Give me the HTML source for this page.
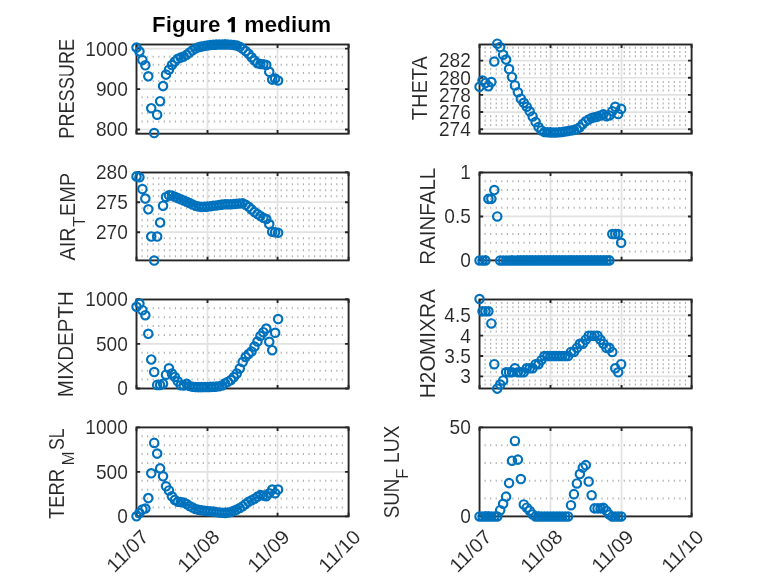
<!DOCTYPE html>
<html><head><meta charset="utf-8"><title>Figure 1 medium</title>
<style>
html,body{margin:0;padding:0;background:#fff;}
body{width:778px;height:583px;overflow:hidden;}
svg{display:block;font-family:"Liberation Sans",sans-serif;will-change:transform;}
.mn{stroke:#b0b0b0;stroke-width:2.0;stroke-dasharray:1.15 4.415;}
.mj{stroke:#e2e2e2;stroke-width:1.7;}
.bx{fill:none;stroke:#262626;stroke-width:1.9;}
.tk{fill:none;stroke:#262626;stroke-width:1.9;}
.tl{font-size:19.7px;fill:#262626;text-anchor:end;stroke:#fff;stroke-width:0.1px;}
.xl{font-size:19.7px;fill:#262626;text-anchor:end;stroke:#fff;stroke-width:0.1px;}
.yl{font-size:21.6px;fill:#262626;text-anchor:middle;stroke:#fff;stroke-width:0.1px;}
.ti{font-size:21.3px;font-weight:bold;fill:#000;stroke:#fff;stroke-width:0.15px;}
.dt{fill:none;stroke:#0072BD;stroke-width:2.15;}
</style></head>
<body>
<svg width="778" height="583" viewBox="0 0 778 583"><rect width="778" height="583" fill="#ffffff"/><line x1="141.49" y1="121.41" x2="346.6" y2="121.41" class="mn"/><line x1="141.49" y1="113.33" x2="346.6" y2="113.33" class="mn"/><line x1="141.49" y1="105.25" x2="346.6" y2="105.25" class="mn"/><line x1="141.49" y1="97.16" x2="346.6" y2="97.16" class="mn"/><line x1="141.49" y1="80.99" x2="346.6" y2="80.99" class="mn"/><line x1="141.49" y1="72.91" x2="346.6" y2="72.91" class="mn"/><line x1="141.49" y1="64.82" x2="346.6" y2="64.82" class="mn"/><line x1="141.49" y1="56.74" x2="346.6" y2="56.74" class="mn"/><line x1="136.5" y1="129.5" x2="348.6" y2="129.5" class="mj"/><line x1="136.5" y1="89.08" x2="348.6" y2="89.08" class="mj"/><line x1="136.5" y1="48.65" x2="348.6" y2="48.65" class="mj"/><line x1="207.5" y1="44.5" x2="207.5" y2="133.7" class="mj"/><line x1="277.55" y1="44.5" x2="277.55" y2="133.7" class="mj"/><rect x="136.5" y="44.5" width="212.1" height="89.2" class="bx"/><path d="M136.5 129.5h3.6M348.6 129.5h-3.6M136.5 89.08h3.6M348.6 89.08h-3.6M136.5 48.65h3.6M348.6 48.65h-3.6M136.5 133.7v-3.6M136.5 44.5v3.6M207.5 133.7v-3.6M207.5 44.5v3.6M277.55 133.7v-3.6M277.55 44.5v3.6M348.6 133.7v-3.6M348.6 44.5v3.6" class="tk"/><text transform="translate(127.8 136.4) scale(0.97 1)" class="tl">800</text><text transform="translate(127.8 95.97) scale(0.97 1)" class="tl">900</text><text transform="translate(127.8 55.55) scale(0.97 1)" class="tl">1000</text><text transform="translate(73.5 88.8) rotate(-90) scale(0.841 1)" class="yl">PRESSURE</text><path d="M140.7 47.6a4.2 4.2 0 1 0 -8.4 0a4.2 4.2 0 1 0 8.4 0M143.65 51.4a4.2 4.2 0 1 0 -8.4 0a4.2 4.2 0 1 0 8.4 0M146.6 60.1a4.2 4.2 0 1 0 -8.4 0a4.2 4.2 0 1 0 8.4 0M149.55 65.3a4.2 4.2 0 1 0 -8.4 0a4.2 4.2 0 1 0 8.4 0M152.5 76.3a4.2 4.2 0 1 0 -8.4 0a4.2 4.2 0 1 0 8.4 0M155.45 108.2a4.2 4.2 0 1 0 -8.4 0a4.2 4.2 0 1 0 8.4 0M158.4 133a4.2 4.2 0 1 0 -8.4 0a4.2 4.2 0 1 0 8.4 0M161.35 114.7a4.2 4.2 0 1 0 -8.4 0a4.2 4.2 0 1 0 8.4 0M164.3 101.2a4.2 4.2 0 1 0 -8.4 0a4.2 4.2 0 1 0 8.4 0M167.25 86.1a4.2 4.2 0 1 0 -8.4 0a4.2 4.2 0 1 0 8.4 0M170.2 74.6a4.2 4.2 0 1 0 -8.4 0a4.2 4.2 0 1 0 8.4 0M173.15 69.8a4.2 4.2 0 1 0 -8.4 0a4.2 4.2 0 1 0 8.4 0M176.1 65a4.2 4.2 0 1 0 -8.4 0a4.2 4.2 0 1 0 8.4 0M179.05 61.5a4.2 4.2 0 1 0 -8.4 0a4.2 4.2 0 1 0 8.4 0M182 58.8a4.2 4.2 0 1 0 -8.4 0a4.2 4.2 0 1 0 8.4 0M184.95 57.6a4.2 4.2 0 1 0 -8.4 0a4.2 4.2 0 1 0 8.4 0M187.9 56.6a4.2 4.2 0 1 0 -8.4 0a4.2 4.2 0 1 0 8.4 0M190.85 54.8a4.2 4.2 0 1 0 -8.4 0a4.2 4.2 0 1 0 8.4 0M193.8 52.5a4.2 4.2 0 1 0 -8.4 0a4.2 4.2 0 1 0 8.4 0M196.75 50.3a4.2 4.2 0 1 0 -8.4 0a4.2 4.2 0 1 0 8.4 0M199.7 48.6a4.2 4.2 0 1 0 -8.4 0a4.2 4.2 0 1 0 8.4 0M202.65 47.3a4.2 4.2 0 1 0 -8.4 0a4.2 4.2 0 1 0 8.4 0M205.6 46.6a4.2 4.2 0 1 0 -8.4 0a4.2 4.2 0 1 0 8.4 0M208.55 45.9a4.2 4.2 0 1 0 -8.4 0a4.2 4.2 0 1 0 8.4 0M211.5 45.4a4.2 4.2 0 1 0 -8.4 0a4.2 4.2 0 1 0 8.4 0M214.45 45a4.2 4.2 0 1 0 -8.4 0a4.2 4.2 0 1 0 8.4 0M217.4 44.8a4.2 4.2 0 1 0 -8.4 0a4.2 4.2 0 1 0 8.4 0M220.35 44.6a4.2 4.2 0 1 0 -8.4 0a4.2 4.2 0 1 0 8.4 0M223.3 44.5a4.2 4.2 0 1 0 -8.4 0a4.2 4.2 0 1 0 8.4 0M226.25 44.4a4.2 4.2 0 1 0 -8.4 0a4.2 4.2 0 1 0 8.4 0M229.2 44.4a4.2 4.2 0 1 0 -8.4 0a4.2 4.2 0 1 0 8.4 0M232.15 44.5a4.2 4.2 0 1 0 -8.4 0a4.2 4.2 0 1 0 8.4 0M235.1 44.7a4.2 4.2 0 1 0 -8.4 0a4.2 4.2 0 1 0 8.4 0M238.05 45a4.2 4.2 0 1 0 -8.4 0a4.2 4.2 0 1 0 8.4 0M241 45.6a4.2 4.2 0 1 0 -8.4 0a4.2 4.2 0 1 0 8.4 0M243.95 46.7a4.2 4.2 0 1 0 -8.4 0a4.2 4.2 0 1 0 8.4 0M246.9 48.8a4.2 4.2 0 1 0 -8.4 0a4.2 4.2 0 1 0 8.4 0M249.85 51a4.2 4.2 0 1 0 -8.4 0a4.2 4.2 0 1 0 8.4 0M252.8 53.8a4.2 4.2 0 1 0 -8.4 0a4.2 4.2 0 1 0 8.4 0M255.75 57.2a4.2 4.2 0 1 0 -8.4 0a4.2 4.2 0 1 0 8.4 0M258.7 60.6a4.2 4.2 0 1 0 -8.4 0a4.2 4.2 0 1 0 8.4 0M261.65 63.2a4.2 4.2 0 1 0 -8.4 0a4.2 4.2 0 1 0 8.4 0M264.6 64a4.2 4.2 0 1 0 -8.4 0a4.2 4.2 0 1 0 8.4 0M267.55 64.3a4.2 4.2 0 1 0 -8.4 0a4.2 4.2 0 1 0 8.4 0M270.5 65a4.2 4.2 0 1 0 -8.4 0a4.2 4.2 0 1 0 8.4 0M273.45 71.8a4.2 4.2 0 1 0 -8.4 0a4.2 4.2 0 1 0 8.4 0M276.4 79.6a4.2 4.2 0 1 0 -8.4 0a4.2 4.2 0 1 0 8.4 0M279.35 78.6a4.2 4.2 0 1 0 -8.4 0a4.2 4.2 0 1 0 8.4 0M282.3 80.4a4.2 4.2 0 1 0 -8.4 0a4.2 4.2 0 1 0 8.4 0" class="dt"/><line x1="484.54" y1="124.91" x2="689.6" y2="124.91" class="mn"/><line x1="484.54" y1="120.62" x2="689.6" y2="120.62" class="mn"/><line x1="484.54" y1="116.34" x2="689.6" y2="116.34" class="mn"/><line x1="484.54" y1="107.76" x2="689.6" y2="107.76" class="mn"/><line x1="484.54" y1="103.47" x2="689.6" y2="103.47" class="mn"/><line x1="484.54" y1="99.19" x2="689.6" y2="99.19" class="mn"/><line x1="484.54" y1="90.61" x2="689.6" y2="90.61" class="mn"/><line x1="484.54" y1="86.32" x2="689.6" y2="86.32" class="mn"/><line x1="484.54" y1="82.04" x2="689.6" y2="82.04" class="mn"/><line x1="484.54" y1="73.46" x2="689.6" y2="73.46" class="mn"/><line x1="484.54" y1="69.17" x2="689.6" y2="69.17" class="mn"/><line x1="484.54" y1="64.89" x2="689.6" y2="64.89" class="mn"/><line x1="484.54" y1="56.31" x2="689.6" y2="56.31" class="mn"/><line x1="484.54" y1="52.02" x2="689.6" y2="52.02" class="mn"/><line x1="484.54" y1="47.74" x2="689.6" y2="47.74" class="mn"/><line x1="479.55" y1="129.2" x2="691.6" y2="129.2" class="mj"/><line x1="479.55" y1="112.05" x2="691.6" y2="112.05" class="mj"/><line x1="479.55" y1="94.9" x2="691.6" y2="94.9" class="mj"/><line x1="479.55" y1="77.75" x2="691.6" y2="77.75" class="mj"/><line x1="479.55" y1="60.6" x2="691.6" y2="60.6" class="mj"/><line x1="550.5" y1="44.5" x2="550.5" y2="133.7" class="mj"/><line x1="621.55" y1="44.5" x2="621.55" y2="133.7" class="mj"/><rect x="479.55" y="44.5" width="212.05" height="89.2" class="bx"/><path d="M479.55 129.2h3.6M691.6 129.2h-3.6M479.55 112.05h3.6M691.6 112.05h-3.6M479.55 94.9h3.6M691.6 94.9h-3.6M479.55 77.75h3.6M691.6 77.75h-3.6M479.55 60.6h3.6M691.6 60.6h-3.6M479.55 133.7v-3.6M479.55 44.5v3.6M550.5 133.7v-3.6M550.5 44.5v3.6M621.55 133.7v-3.6M621.55 44.5v3.6M691.6 133.7v-3.6M691.6 44.5v3.6" class="tk"/><text transform="translate(470.85 136.09) scale(0.97 1)" class="tl">274</text><text transform="translate(470.85 118.94) scale(0.97 1)" class="tl">276</text><text transform="translate(470.85 101.79) scale(0.97 1)" class="tl">278</text><text transform="translate(470.85 84.64) scale(0.97 1)" class="tl">280</text><text transform="translate(470.85 67.49) scale(0.97 1)" class="tl">282</text><text transform="translate(426.6 88.2) rotate(-90) scale(0.925 1)" class="yl">THETA</text><path d="M483.75 86.8a4.2 4.2 0 1 0 -8.4 0a4.2 4.2 0 1 0 8.4 0M486.7 80.4a4.2 4.2 0 1 0 -8.4 0a4.2 4.2 0 1 0 8.4 0M489.65 83a4.2 4.2 0 1 0 -8.4 0a4.2 4.2 0 1 0 8.4 0M492.6 86.3a4.2 4.2 0 1 0 -8.4 0a4.2 4.2 0 1 0 8.4 0M495.55 82.1a4.2 4.2 0 1 0 -8.4 0a4.2 4.2 0 1 0 8.4 0M498.5 61.5a4.2 4.2 0 1 0 -8.4 0a4.2 4.2 0 1 0 8.4 0M501.45 43.7a4.2 4.2 0 1 0 -8.4 0a4.2 4.2 0 1 0 8.4 0M504.4 47a4.2 4.2 0 1 0 -8.4 0a4.2 4.2 0 1 0 8.4 0M507.35 54.7a4.2 4.2 0 1 0 -8.4 0a4.2 4.2 0 1 0 8.4 0M510.3 59.6a4.2 4.2 0 1 0 -8.4 0a4.2 4.2 0 1 0 8.4 0M513.25 69.1a4.2 4.2 0 1 0 -8.4 0a4.2 4.2 0 1 0 8.4 0M516.2 77a4.2 4.2 0 1 0 -8.4 0a4.2 4.2 0 1 0 8.4 0M519.15 85.4a4.2 4.2 0 1 0 -8.4 0a4.2 4.2 0 1 0 8.4 0M522.1 92.3a4.2 4.2 0 1 0 -8.4 0a4.2 4.2 0 1 0 8.4 0M525.05 98.7a4.2 4.2 0 1 0 -8.4 0a4.2 4.2 0 1 0 8.4 0M528 102.8a4.2 4.2 0 1 0 -8.4 0a4.2 4.2 0 1 0 8.4 0M530.95 106.8a4.2 4.2 0 1 0 -8.4 0a4.2 4.2 0 1 0 8.4 0M533.9 111.3a4.2 4.2 0 1 0 -8.4 0a4.2 4.2 0 1 0 8.4 0M536.85 116.5a4.2 4.2 0 1 0 -8.4 0a4.2 4.2 0 1 0 8.4 0M539.8 122a4.2 4.2 0 1 0 -8.4 0a4.2 4.2 0 1 0 8.4 0M542.75 127a4.2 4.2 0 1 0 -8.4 0a4.2 4.2 0 1 0 8.4 0M545.7 130.5a4.2 4.2 0 1 0 -8.4 0a4.2 4.2 0 1 0 8.4 0M548.65 132a4.2 4.2 0 1 0 -8.4 0a4.2 4.2 0 1 0 8.4 0M551.6 132.3a4.2 4.2 0 1 0 -8.4 0a4.2 4.2 0 1 0 8.4 0M554.55 132.4a4.2 4.2 0 1 0 -8.4 0a4.2 4.2 0 1 0 8.4 0M557.5 132.5a4.2 4.2 0 1 0 -8.4 0a4.2 4.2 0 1 0 8.4 0M560.45 132.5a4.2 4.2 0 1 0 -8.4 0a4.2 4.2 0 1 0 8.4 0M563.4 132.3a4.2 4.2 0 1 0 -8.4 0a4.2 4.2 0 1 0 8.4 0M566.35 132a4.2 4.2 0 1 0 -8.4 0a4.2 4.2 0 1 0 8.4 0M569.3 131.5a4.2 4.2 0 1 0 -8.4 0a4.2 4.2 0 1 0 8.4 0M572.25 131a4.2 4.2 0 1 0 -8.4 0a4.2 4.2 0 1 0 8.4 0M575.2 130.5a4.2 4.2 0 1 0 -8.4 0a4.2 4.2 0 1 0 8.4 0M578.15 130a4.2 4.2 0 1 0 -8.4 0a4.2 4.2 0 1 0 8.4 0M581.1 129a4.2 4.2 0 1 0 -8.4 0a4.2 4.2 0 1 0 8.4 0M584.05 127.3a4.2 4.2 0 1 0 -8.4 0a4.2 4.2 0 1 0 8.4 0M587 124a4.2 4.2 0 1 0 -8.4 0a4.2 4.2 0 1 0 8.4 0M589.95 121.2a4.2 4.2 0 1 0 -8.4 0a4.2 4.2 0 1 0 8.4 0M592.9 119.5a4.2 4.2 0 1 0 -8.4 0a4.2 4.2 0 1 0 8.4 0M595.85 118.1a4.2 4.2 0 1 0 -8.4 0a4.2 4.2 0 1 0 8.4 0M598.8 117.2a4.2 4.2 0 1 0 -8.4 0a4.2 4.2 0 1 0 8.4 0M601.75 116.6a4.2 4.2 0 1 0 -8.4 0a4.2 4.2 0 1 0 8.4 0M604.7 115.5a4.2 4.2 0 1 0 -8.4 0a4.2 4.2 0 1 0 8.4 0M607.65 114.3a4.2 4.2 0 1 0 -8.4 0a4.2 4.2 0 1 0 8.4 0M610.6 116.3a4.2 4.2 0 1 0 -8.4 0a4.2 4.2 0 1 0 8.4 0M613.55 115.5a4.2 4.2 0 1 0 -8.4 0a4.2 4.2 0 1 0 8.4 0M616.5 111.2a4.2 4.2 0 1 0 -8.4 0a4.2 4.2 0 1 0 8.4 0M619.45 106.8a4.2 4.2 0 1 0 -8.4 0a4.2 4.2 0 1 0 8.4 0M622.4 114a4.2 4.2 0 1 0 -8.4 0a4.2 4.2 0 1 0 8.4 0M625.35 108.9a4.2 4.2 0 1 0 -8.4 0a4.2 4.2 0 1 0 8.4 0" class="dt"/><line x1="141.49" y1="256.2" x2="346.6" y2="256.2" class="mn"/><line x1="141.49" y1="250.2" x2="346.6" y2="250.2" class="mn"/><line x1="141.49" y1="244.2" x2="346.6" y2="244.2" class="mn"/><line x1="141.49" y1="238.2" x2="346.6" y2="238.2" class="mn"/><line x1="141.49" y1="226.2" x2="346.6" y2="226.2" class="mn"/><line x1="141.49" y1="220.2" x2="346.6" y2="220.2" class="mn"/><line x1="141.49" y1="214.2" x2="346.6" y2="214.2" class="mn"/><line x1="141.49" y1="208.2" x2="346.6" y2="208.2" class="mn"/><line x1="141.49" y1="196.2" x2="346.6" y2="196.2" class="mn"/><line x1="141.49" y1="190.2" x2="346.6" y2="190.2" class="mn"/><line x1="141.49" y1="184.2" x2="346.6" y2="184.2" class="mn"/><line x1="141.49" y1="178.2" x2="346.6" y2="178.2" class="mn"/><line x1="136.5" y1="232.2" x2="348.6" y2="232.2" class="mj"/><line x1="136.5" y1="202.2" x2="348.6" y2="202.2" class="mj"/><line x1="207.5" y1="172.5" x2="207.5" y2="260.4" class="mj"/><line x1="277.55" y1="172.5" x2="277.55" y2="260.4" class="mj"/><rect x="136.5" y="172.5" width="212.1" height="87.9" class="bx"/><path d="M136.5 232.2h3.6M348.6 232.2h-3.6M136.5 202.2h3.6M348.6 202.2h-3.6M136.5 172.2h3.6M348.6 172.2h-3.6M136.5 260.4v-3.6M136.5 172.5v3.6M207.5 260.4v-3.6M207.5 172.5v3.6M277.55 260.4v-3.6M277.55 172.5v3.6M348.6 260.4v-3.6M348.6 172.5v3.6" class="tk"/><text transform="translate(127.8 239.09) scale(0.97 1)" class="tl">270</text><text transform="translate(127.8 209.09) scale(0.97 1)" class="tl">275</text><text transform="translate(127.8 179.09) scale(0.97 1)" class="tl">280</text><text transform="translate(74.7 260.5) rotate(-90) scale(0.92 1)" class="yl" style="text-anchor:start;font-size:21.6px">AIR</text><text transform="translate(84.9 227.2) rotate(-90) scale(1.1 1)" class="yl" style="text-anchor:start;font-size:16.3px">T</text><text transform="translate(74.7 216.2) rotate(-90) scale(0.927 1)" class="yl" style="text-anchor:start;font-size:21.6px">EMP</text><path d="M140.7 176.4a4.2 4.2 0 1 0 -8.4 0a4.2 4.2 0 1 0 8.4 0M143.65 177.3a4.2 4.2 0 1 0 -8.4 0a4.2 4.2 0 1 0 8.4 0M146.6 189.1a4.2 4.2 0 1 0 -8.4 0a4.2 4.2 0 1 0 8.4 0M149.55 198.6a4.2 4.2 0 1 0 -8.4 0a4.2 4.2 0 1 0 8.4 0M152.5 209.3a4.2 4.2 0 1 0 -8.4 0a4.2 4.2 0 1 0 8.4 0M155.45 236.5a4.2 4.2 0 1 0 -8.4 0a4.2 4.2 0 1 0 8.4 0M158.4 260.5a4.2 4.2 0 1 0 -8.4 0a4.2 4.2 0 1 0 8.4 0M161.35 236.5a4.2 4.2 0 1 0 -8.4 0a4.2 4.2 0 1 0 8.4 0M164.3 222.5a4.2 4.2 0 1 0 -8.4 0a4.2 4.2 0 1 0 8.4 0M167.25 205.7a4.2 4.2 0 1 0 -8.4 0a4.2 4.2 0 1 0 8.4 0M170.2 196.9a4.2 4.2 0 1 0 -8.4 0a4.2 4.2 0 1 0 8.4 0M173.15 195.2a4.2 4.2 0 1 0 -8.4 0a4.2 4.2 0 1 0 8.4 0M176.1 195.5a4.2 4.2 0 1 0 -8.4 0a4.2 4.2 0 1 0 8.4 0M179.05 196.8a4.2 4.2 0 1 0 -8.4 0a4.2 4.2 0 1 0 8.4 0M182 198.1a4.2 4.2 0 1 0 -8.4 0a4.2 4.2 0 1 0 8.4 0M184.95 199.2a4.2 4.2 0 1 0 -8.4 0a4.2 4.2 0 1 0 8.4 0M187.9 200.4a4.2 4.2 0 1 0 -8.4 0a4.2 4.2 0 1 0 8.4 0M190.85 201.8a4.2 4.2 0 1 0 -8.4 0a4.2 4.2 0 1 0 8.4 0M193.8 203.1a4.2 4.2 0 1 0 -8.4 0a4.2 4.2 0 1 0 8.4 0M196.75 204.5a4.2 4.2 0 1 0 -8.4 0a4.2 4.2 0 1 0 8.4 0M199.7 205.8a4.2 4.2 0 1 0 -8.4 0a4.2 4.2 0 1 0 8.4 0M202.65 206.5a4.2 4.2 0 1 0 -8.4 0a4.2 4.2 0 1 0 8.4 0M205.6 207a4.2 4.2 0 1 0 -8.4 0a4.2 4.2 0 1 0 8.4 0M208.55 206.8a4.2 4.2 0 1 0 -8.4 0a4.2 4.2 0 1 0 8.4 0M211.5 206.6a4.2 4.2 0 1 0 -8.4 0a4.2 4.2 0 1 0 8.4 0M214.45 206.2a4.2 4.2 0 1 0 -8.4 0a4.2 4.2 0 1 0 8.4 0M217.4 205.8a4.2 4.2 0 1 0 -8.4 0a4.2 4.2 0 1 0 8.4 0M220.35 205.4a4.2 4.2 0 1 0 -8.4 0a4.2 4.2 0 1 0 8.4 0M223.3 205a4.2 4.2 0 1 0 -8.4 0a4.2 4.2 0 1 0 8.4 0M226.25 204.6a4.2 4.2 0 1 0 -8.4 0a4.2 4.2 0 1 0 8.4 0M229.2 204.2a4.2 4.2 0 1 0 -8.4 0a4.2 4.2 0 1 0 8.4 0M232.15 204.2a4.2 4.2 0 1 0 -8.4 0a4.2 4.2 0 1 0 8.4 0M235.1 204.2a4.2 4.2 0 1 0 -8.4 0a4.2 4.2 0 1 0 8.4 0M238.05 204a4.2 4.2 0 1 0 -8.4 0a4.2 4.2 0 1 0 8.4 0M241 203.8a4.2 4.2 0 1 0 -8.4 0a4.2 4.2 0 1 0 8.4 0M243.95 203.5a4.2 4.2 0 1 0 -8.4 0a4.2 4.2 0 1 0 8.4 0M246.9 203.3a4.2 4.2 0 1 0 -8.4 0a4.2 4.2 0 1 0 8.4 0M249.85 204.8a4.2 4.2 0 1 0 -8.4 0a4.2 4.2 0 1 0 8.4 0M252.8 206.8a4.2 4.2 0 1 0 -8.4 0a4.2 4.2 0 1 0 8.4 0M255.75 209.4a4.2 4.2 0 1 0 -8.4 0a4.2 4.2 0 1 0 8.4 0M258.7 212a4.2 4.2 0 1 0 -8.4 0a4.2 4.2 0 1 0 8.4 0M261.65 214a4.2 4.2 0 1 0 -8.4 0a4.2 4.2 0 1 0 8.4 0M264.6 216.1a4.2 4.2 0 1 0 -8.4 0a4.2 4.2 0 1 0 8.4 0M267.55 217.8a4.2 4.2 0 1 0 -8.4 0a4.2 4.2 0 1 0 8.4 0M270.5 219a4.2 4.2 0 1 0 -8.4 0a4.2 4.2 0 1 0 8.4 0M273.45 224.1a4.2 4.2 0 1 0 -8.4 0a4.2 4.2 0 1 0 8.4 0M276.4 231.8a4.2 4.2 0 1 0 -8.4 0a4.2 4.2 0 1 0 8.4 0M279.35 232.3a4.2 4.2 0 1 0 -8.4 0a4.2 4.2 0 1 0 8.4 0M282.3 232.8a4.2 4.2 0 1 0 -8.4 0a4.2 4.2 0 1 0 8.4 0" class="dt"/><line x1="484.54" y1="251.61" x2="689.6" y2="251.61" class="mn"/><line x1="484.54" y1="242.82" x2="689.6" y2="242.82" class="mn"/><line x1="484.54" y1="234.03" x2="689.6" y2="234.03" class="mn"/><line x1="484.54" y1="225.24" x2="689.6" y2="225.24" class="mn"/><line x1="484.54" y1="207.66" x2="689.6" y2="207.66" class="mn"/><line x1="484.54" y1="198.87" x2="689.6" y2="198.87" class="mn"/><line x1="484.54" y1="190.08" x2="689.6" y2="190.08" class="mn"/><line x1="484.54" y1="181.29" x2="689.6" y2="181.29" class="mn"/><line x1="479.55" y1="216.45" x2="691.6" y2="216.45" class="mj"/><line x1="550.5" y1="172.5" x2="550.5" y2="260.4" class="mj"/><line x1="621.55" y1="172.5" x2="621.55" y2="260.4" class="mj"/><rect x="479.55" y="172.5" width="212.05" height="87.9" class="bx"/><path d="M479.55 260.4h3.6M691.6 260.4h-3.6M479.55 216.45h3.6M691.6 216.45h-3.6M479.55 172.5h3.6M691.6 172.5h-3.6M479.55 260.4v-3.6M479.55 172.5v3.6M550.5 260.4v-3.6M550.5 172.5v3.6M621.55 260.4v-3.6M621.55 172.5v3.6M691.6 260.4v-3.6M691.6 172.5v3.6" class="tk"/><text transform="translate(470.85 267.29) scale(0.97 1)" class="tl">0</text><text transform="translate(470.85 223.34) scale(0.97 1)" class="tl">0.5</text><text transform="translate(470.85 179.4) scale(0.97 1)" class="tl">1</text><text transform="translate(434.5 216.2) rotate(-90) scale(0.95 1)" class="yl">RAINFALL</text><path d="M483.75 260.4a4.2 4.2 0 1 0 -8.4 0a4.2 4.2 0 1 0 8.4 0M486.7 260.4a4.2 4.2 0 1 0 -8.4 0a4.2 4.2 0 1 0 8.4 0M489.65 260.4a4.2 4.2 0 1 0 -8.4 0a4.2 4.2 0 1 0 8.4 0M492.6 198.87a4.2 4.2 0 1 0 -8.4 0a4.2 4.2 0 1 0 8.4 0M495.55 198.87a4.2 4.2 0 1 0 -8.4 0a4.2 4.2 0 1 0 8.4 0M498.5 190.08a4.2 4.2 0 1 0 -8.4 0a4.2 4.2 0 1 0 8.4 0M501.45 216.45a4.2 4.2 0 1 0 -8.4 0a4.2 4.2 0 1 0 8.4 0M504.4 260.4a4.2 4.2 0 1 0 -8.4 0a4.2 4.2 0 1 0 8.4 0M507.35 260.4a4.2 4.2 0 1 0 -8.4 0a4.2 4.2 0 1 0 8.4 0M510.3 260.4a4.2 4.2 0 1 0 -8.4 0a4.2 4.2 0 1 0 8.4 0M513.25 260.4a4.2 4.2 0 1 0 -8.4 0a4.2 4.2 0 1 0 8.4 0M516.2 260.4a4.2 4.2 0 1 0 -8.4 0a4.2 4.2 0 1 0 8.4 0M519.15 260.4a4.2 4.2 0 1 0 -8.4 0a4.2 4.2 0 1 0 8.4 0M522.1 260.4a4.2 4.2 0 1 0 -8.4 0a4.2 4.2 0 1 0 8.4 0M525.05 260.4a4.2 4.2 0 1 0 -8.4 0a4.2 4.2 0 1 0 8.4 0M528 260.4a4.2 4.2 0 1 0 -8.4 0a4.2 4.2 0 1 0 8.4 0M530.95 260.4a4.2 4.2 0 1 0 -8.4 0a4.2 4.2 0 1 0 8.4 0M533.9 260.4a4.2 4.2 0 1 0 -8.4 0a4.2 4.2 0 1 0 8.4 0M536.85 260.4a4.2 4.2 0 1 0 -8.4 0a4.2 4.2 0 1 0 8.4 0M539.8 260.4a4.2 4.2 0 1 0 -8.4 0a4.2 4.2 0 1 0 8.4 0M542.75 260.4a4.2 4.2 0 1 0 -8.4 0a4.2 4.2 0 1 0 8.4 0M545.7 260.4a4.2 4.2 0 1 0 -8.4 0a4.2 4.2 0 1 0 8.4 0M548.65 260.4a4.2 4.2 0 1 0 -8.4 0a4.2 4.2 0 1 0 8.4 0M551.6 260.4a4.2 4.2 0 1 0 -8.4 0a4.2 4.2 0 1 0 8.4 0M554.55 260.4a4.2 4.2 0 1 0 -8.4 0a4.2 4.2 0 1 0 8.4 0M557.5 260.4a4.2 4.2 0 1 0 -8.4 0a4.2 4.2 0 1 0 8.4 0M560.45 260.4a4.2 4.2 0 1 0 -8.4 0a4.2 4.2 0 1 0 8.4 0M563.4 260.4a4.2 4.2 0 1 0 -8.4 0a4.2 4.2 0 1 0 8.4 0M566.35 260.4a4.2 4.2 0 1 0 -8.4 0a4.2 4.2 0 1 0 8.4 0M569.3 260.4a4.2 4.2 0 1 0 -8.4 0a4.2 4.2 0 1 0 8.4 0M572.25 260.4a4.2 4.2 0 1 0 -8.4 0a4.2 4.2 0 1 0 8.4 0M575.2 260.4a4.2 4.2 0 1 0 -8.4 0a4.2 4.2 0 1 0 8.4 0M578.15 260.4a4.2 4.2 0 1 0 -8.4 0a4.2 4.2 0 1 0 8.4 0M581.1 260.4a4.2 4.2 0 1 0 -8.4 0a4.2 4.2 0 1 0 8.4 0M584.05 260.4a4.2 4.2 0 1 0 -8.4 0a4.2 4.2 0 1 0 8.4 0M587 260.4a4.2 4.2 0 1 0 -8.4 0a4.2 4.2 0 1 0 8.4 0M589.95 260.4a4.2 4.2 0 1 0 -8.4 0a4.2 4.2 0 1 0 8.4 0M592.9 260.4a4.2 4.2 0 1 0 -8.4 0a4.2 4.2 0 1 0 8.4 0M595.85 260.4a4.2 4.2 0 1 0 -8.4 0a4.2 4.2 0 1 0 8.4 0M598.8 260.4a4.2 4.2 0 1 0 -8.4 0a4.2 4.2 0 1 0 8.4 0M601.75 260.4a4.2 4.2 0 1 0 -8.4 0a4.2 4.2 0 1 0 8.4 0M604.7 260.4a4.2 4.2 0 1 0 -8.4 0a4.2 4.2 0 1 0 8.4 0M607.65 260.4a4.2 4.2 0 1 0 -8.4 0a4.2 4.2 0 1 0 8.4 0M610.6 260.4a4.2 4.2 0 1 0 -8.4 0a4.2 4.2 0 1 0 8.4 0M613.55 260.4a4.2 4.2 0 1 0 -8.4 0a4.2 4.2 0 1 0 8.4 0M616.5 234.03a4.2 4.2 0 1 0 -8.4 0a4.2 4.2 0 1 0 8.4 0M619.45 234.03a4.2 4.2 0 1 0 -8.4 0a4.2 4.2 0 1 0 8.4 0M622.4 234.03a4.2 4.2 0 1 0 -8.4 0a4.2 4.2 0 1 0 8.4 0M625.35 242.82a4.2 4.2 0 1 0 -8.4 0a4.2 4.2 0 1 0 8.4 0" class="dt"/><line x1="141.49" y1="379.58" x2="346.6" y2="379.58" class="mn"/><line x1="141.49" y1="370.66" x2="346.6" y2="370.66" class="mn"/><line x1="141.49" y1="361.74" x2="346.6" y2="361.74" class="mn"/><line x1="141.49" y1="352.82" x2="346.6" y2="352.82" class="mn"/><line x1="141.49" y1="334.98" x2="346.6" y2="334.98" class="mn"/><line x1="141.49" y1="326.06" x2="346.6" y2="326.06" class="mn"/><line x1="141.49" y1="317.14" x2="346.6" y2="317.14" class="mn"/><line x1="141.49" y1="308.22" x2="346.6" y2="308.22" class="mn"/><line x1="136.5" y1="343.9" x2="348.6" y2="343.9" class="mj"/><line x1="207.5" y1="299.5" x2="207.5" y2="388.5" class="mj"/><line x1="277.55" y1="299.5" x2="277.55" y2="388.5" class="mj"/><rect x="136.5" y="299.5" width="212.1" height="89" class="bx"/><path d="M136.5 388.5h3.6M348.6 388.5h-3.6M136.5 343.9h3.6M348.6 343.9h-3.6M136.5 299.3h3.6M348.6 299.3h-3.6M136.5 388.5v-3.6M136.5 299.5v3.6M207.5 388.5v-3.6M207.5 299.5v3.6M277.55 388.5v-3.6M277.55 299.5v3.6M348.6 388.5v-3.6M348.6 299.5v3.6" class="tk"/><text transform="translate(127.8 395.39) scale(0.97 1)" class="tl">0</text><text transform="translate(127.8 350.79) scale(0.97 1)" class="tl">500</text><text transform="translate(127.8 306.19) scale(0.97 1)" class="tl">1000</text><text transform="translate(72.5 344.2) rotate(-90) scale(0.95 1)" class="yl">MIXDEPTH</text><path d="M140.7 306.7a4.2 4.2 0 1 0 -8.4 0a4.2 4.2 0 1 0 8.4 0M143.65 303.6a4.2 4.2 0 1 0 -8.4 0a4.2 4.2 0 1 0 8.4 0M146.6 310.2a4.2 4.2 0 1 0 -8.4 0a4.2 4.2 0 1 0 8.4 0M149.55 315.2a4.2 4.2 0 1 0 -8.4 0a4.2 4.2 0 1 0 8.4 0M152.5 333.8a4.2 4.2 0 1 0 -8.4 0a4.2 4.2 0 1 0 8.4 0M155.45 359.5a4.2 4.2 0 1 0 -8.4 0a4.2 4.2 0 1 0 8.4 0M158.4 372a4.2 4.2 0 1 0 -8.4 0a4.2 4.2 0 1 0 8.4 0M161.35 384.9a4.2 4.2 0 1 0 -8.4 0a4.2 4.2 0 1 0 8.4 0M164.3 384.9a4.2 4.2 0 1 0 -8.4 0a4.2 4.2 0 1 0 8.4 0M167.25 383.7a4.2 4.2 0 1 0 -8.4 0a4.2 4.2 0 1 0 8.4 0M170.2 374.7a4.2 4.2 0 1 0 -8.4 0a4.2 4.2 0 1 0 8.4 0M173.15 368.3a4.2 4.2 0 1 0 -8.4 0a4.2 4.2 0 1 0 8.4 0M176.1 373.4a4.2 4.2 0 1 0 -8.4 0a4.2 4.2 0 1 0 8.4 0M179.05 377a4.2 4.2 0 1 0 -8.4 0a4.2 4.2 0 1 0 8.4 0M182 381.3a4.2 4.2 0 1 0 -8.4 0a4.2 4.2 0 1 0 8.4 0M184.95 385.3a4.2 4.2 0 1 0 -8.4 0a4.2 4.2 0 1 0 8.4 0M187.9 385.5a4.2 4.2 0 1 0 -8.4 0a4.2 4.2 0 1 0 8.4 0M190.85 383.8a4.2 4.2 0 1 0 -8.4 0a4.2 4.2 0 1 0 8.4 0M193.8 386a4.2 4.2 0 1 0 -8.4 0a4.2 4.2 0 1 0 8.4 0M196.75 386.7a4.2 4.2 0 1 0 -8.4 0a4.2 4.2 0 1 0 8.4 0M199.7 387a4.2 4.2 0 1 0 -8.4 0a4.2 4.2 0 1 0 8.4 0M202.65 387.1a4.2 4.2 0 1 0 -8.4 0a4.2 4.2 0 1 0 8.4 0M205.6 387.1a4.2 4.2 0 1 0 -8.4 0a4.2 4.2 0 1 0 8.4 0M208.55 387a4.2 4.2 0 1 0 -8.4 0a4.2 4.2 0 1 0 8.4 0M211.5 387a4.2 4.2 0 1 0 -8.4 0a4.2 4.2 0 1 0 8.4 0M214.45 386.9a4.2 4.2 0 1 0 -8.4 0a4.2 4.2 0 1 0 8.4 0M217.4 386.8a4.2 4.2 0 1 0 -8.4 0a4.2 4.2 0 1 0 8.4 0M220.35 386.6a4.2 4.2 0 1 0 -8.4 0a4.2 4.2 0 1 0 8.4 0M223.3 386.3a4.2 4.2 0 1 0 -8.4 0a4.2 4.2 0 1 0 8.4 0M226.25 385.5a4.2 4.2 0 1 0 -8.4 0a4.2 4.2 0 1 0 8.4 0M229.2 383.3a4.2 4.2 0 1 0 -8.4 0a4.2 4.2 0 1 0 8.4 0M232.15 381.7a4.2 4.2 0 1 0 -8.4 0a4.2 4.2 0 1 0 8.4 0M235.1 380a4.2 4.2 0 1 0 -8.4 0a4.2 4.2 0 1 0 8.4 0M238.05 377a4.2 4.2 0 1 0 -8.4 0a4.2 4.2 0 1 0 8.4 0M241 373.5a4.2 4.2 0 1 0 -8.4 0a4.2 4.2 0 1 0 8.4 0M243.95 368.5a4.2 4.2 0 1 0 -8.4 0a4.2 4.2 0 1 0 8.4 0M246.9 362a4.2 4.2 0 1 0 -8.4 0a4.2 4.2 0 1 0 8.4 0M249.85 357a4.2 4.2 0 1 0 -8.4 0a4.2 4.2 0 1 0 8.4 0M252.8 354a4.2 4.2 0 1 0 -8.4 0a4.2 4.2 0 1 0 8.4 0M255.75 351.5a4.2 4.2 0 1 0 -8.4 0a4.2 4.2 0 1 0 8.4 0M258.7 346.5a4.2 4.2 0 1 0 -8.4 0a4.2 4.2 0 1 0 8.4 0M261.65 341.5a4.2 4.2 0 1 0 -8.4 0a4.2 4.2 0 1 0 8.4 0M264.6 336a4.2 4.2 0 1 0 -8.4 0a4.2 4.2 0 1 0 8.4 0M267.55 332.2a4.2 4.2 0 1 0 -8.4 0a4.2 4.2 0 1 0 8.4 0M270.5 328.6a4.2 4.2 0 1 0 -8.4 0a4.2 4.2 0 1 0 8.4 0M273.45 341.8a4.2 4.2 0 1 0 -8.4 0a4.2 4.2 0 1 0 8.4 0M276.4 350.2a4.2 4.2 0 1 0 -8.4 0a4.2 4.2 0 1 0 8.4 0M279.35 332.8a4.2 4.2 0 1 0 -8.4 0a4.2 4.2 0 1 0 8.4 0M282.3 319a4.2 4.2 0 1 0 -8.4 0a4.2 4.2 0 1 0 8.4 0" class="dt"/><line x1="484.54" y1="384.55" x2="689.6" y2="384.55" class="mn"/><line x1="484.54" y1="380.47" x2="689.6" y2="380.47" class="mn"/><line x1="484.54" y1="372.33" x2="689.6" y2="372.33" class="mn"/><line x1="484.54" y1="368.25" x2="689.6" y2="368.25" class="mn"/><line x1="484.54" y1="364.18" x2="689.6" y2="364.18" class="mn"/><line x1="484.54" y1="360.11" x2="689.6" y2="360.11" class="mn"/><line x1="484.54" y1="351.96" x2="689.6" y2="351.96" class="mn"/><line x1="484.54" y1="347.89" x2="689.6" y2="347.89" class="mn"/><line x1="484.54" y1="343.81" x2="689.6" y2="343.81" class="mn"/><line x1="484.54" y1="339.74" x2="689.6" y2="339.74" class="mn"/><line x1="484.54" y1="331.59" x2="689.6" y2="331.59" class="mn"/><line x1="484.54" y1="327.52" x2="689.6" y2="327.52" class="mn"/><line x1="484.54" y1="323.45" x2="689.6" y2="323.45" class="mn"/><line x1="484.54" y1="319.37" x2="689.6" y2="319.37" class="mn"/><line x1="484.54" y1="311.23" x2="689.6" y2="311.23" class="mn"/><line x1="484.54" y1="307.15" x2="689.6" y2="307.15" class="mn"/><line x1="484.54" y1="303.08" x2="689.6" y2="303.08" class="mn"/><line x1="479.55" y1="376.4" x2="691.6" y2="376.4" class="mj"/><line x1="479.55" y1="356.03" x2="691.6" y2="356.03" class="mj"/><line x1="479.55" y1="335.67" x2="691.6" y2="335.67" class="mj"/><line x1="479.55" y1="315.3" x2="691.6" y2="315.3" class="mj"/><line x1="550.5" y1="299.5" x2="550.5" y2="388.5" class="mj"/><line x1="621.55" y1="299.5" x2="621.55" y2="388.5" class="mj"/><rect x="479.55" y="299.5" width="212.05" height="89" class="bx"/><path d="M479.55 376.4h3.6M691.6 376.4h-3.6M479.55 356.03h3.6M691.6 356.03h-3.6M479.55 335.67h3.6M691.6 335.67h-3.6M479.55 315.3h3.6M691.6 315.3h-3.6M479.55 388.5v-3.6M479.55 299.5v3.6M550.5 388.5v-3.6M550.5 299.5v3.6M621.55 388.5v-3.6M621.55 299.5v3.6M691.6 388.5v-3.6M691.6 299.5v3.6" class="tk"/><text transform="translate(470.85 383.29) scale(0.97 1)" class="tl">3</text><text transform="translate(470.85 362.93) scale(0.97 1)" class="tl">3.5</text><text transform="translate(470.85 342.56) scale(0.97 1)" class="tl">4</text><text transform="translate(470.85 322.19) scale(0.97 1)" class="tl">4.5</text><text transform="translate(434.5 343.65) rotate(-90) scale(0.968 1)" class="yl">H2OMIXRA</text><path d="M483.75 299.01a4.2 4.2 0 1 0 -8.4 0a4.2 4.2 0 1 0 8.4 0M486.7 311.23a4.2 4.2 0 1 0 -8.4 0a4.2 4.2 0 1 0 8.4 0M489.65 311.23a4.2 4.2 0 1 0 -8.4 0a4.2 4.2 0 1 0 8.4 0M492.6 311.23a4.2 4.2 0 1 0 -8.4 0a4.2 4.2 0 1 0 8.4 0M495.55 323.45a4.2 4.2 0 1 0 -8.4 0a4.2 4.2 0 1 0 8.4 0M498.5 364.18a4.2 4.2 0 1 0 -8.4 0a4.2 4.2 0 1 0 8.4 0M501.45 388.62a4.2 4.2 0 1 0 -8.4 0a4.2 4.2 0 1 0 8.4 0M504.4 384.55a4.2 4.2 0 1 0 -8.4 0a4.2 4.2 0 1 0 8.4 0M507.35 380.47a4.2 4.2 0 1 0 -8.4 0a4.2 4.2 0 1 0 8.4 0M510.3 372.33a4.2 4.2 0 1 0 -8.4 0a4.2 4.2 0 1 0 8.4 0M513.25 372.33a4.2 4.2 0 1 0 -8.4 0a4.2 4.2 0 1 0 8.4 0M516.2 372.33a4.2 4.2 0 1 0 -8.4 0a4.2 4.2 0 1 0 8.4 0M519.15 368.25a4.2 4.2 0 1 0 -8.4 0a4.2 4.2 0 1 0 8.4 0M522.1 372.33a4.2 4.2 0 1 0 -8.4 0a4.2 4.2 0 1 0 8.4 0M525.05 372.33a4.2 4.2 0 1 0 -8.4 0a4.2 4.2 0 1 0 8.4 0M528 372.33a4.2 4.2 0 1 0 -8.4 0a4.2 4.2 0 1 0 8.4 0M530.95 368.25a4.2 4.2 0 1 0 -8.4 0a4.2 4.2 0 1 0 8.4 0M533.9 368.25a4.2 4.2 0 1 0 -8.4 0a4.2 4.2 0 1 0 8.4 0M536.85 368.25a4.2 4.2 0 1 0 -8.4 0a4.2 4.2 0 1 0 8.4 0M539.8 364.18a4.2 4.2 0 1 0 -8.4 0a4.2 4.2 0 1 0 8.4 0M542.75 364.18a4.2 4.2 0 1 0 -8.4 0a4.2 4.2 0 1 0 8.4 0M545.7 360.11a4.2 4.2 0 1 0 -8.4 0a4.2 4.2 0 1 0 8.4 0M548.65 356.03a4.2 4.2 0 1 0 -8.4 0a4.2 4.2 0 1 0 8.4 0M551.6 356.03a4.2 4.2 0 1 0 -8.4 0a4.2 4.2 0 1 0 8.4 0M554.55 356.03a4.2 4.2 0 1 0 -8.4 0a4.2 4.2 0 1 0 8.4 0M557.5 356.03a4.2 4.2 0 1 0 -8.4 0a4.2 4.2 0 1 0 8.4 0M560.45 356.03a4.2 4.2 0 1 0 -8.4 0a4.2 4.2 0 1 0 8.4 0M563.4 356.03a4.2 4.2 0 1 0 -8.4 0a4.2 4.2 0 1 0 8.4 0M566.35 356.03a4.2 4.2 0 1 0 -8.4 0a4.2 4.2 0 1 0 8.4 0M569.3 356.03a4.2 4.2 0 1 0 -8.4 0a4.2 4.2 0 1 0 8.4 0M572.25 356.03a4.2 4.2 0 1 0 -8.4 0a4.2 4.2 0 1 0 8.4 0M575.2 351.96a4.2 4.2 0 1 0 -8.4 0a4.2 4.2 0 1 0 8.4 0M578.15 351.96a4.2 4.2 0 1 0 -8.4 0a4.2 4.2 0 1 0 8.4 0M581.1 347.89a4.2 4.2 0 1 0 -8.4 0a4.2 4.2 0 1 0 8.4 0M584.05 343.82a4.2 4.2 0 1 0 -8.4 0a4.2 4.2 0 1 0 8.4 0M587 343.82a4.2 4.2 0 1 0 -8.4 0a4.2 4.2 0 1 0 8.4 0M589.95 339.74a4.2 4.2 0 1 0 -8.4 0a4.2 4.2 0 1 0 8.4 0M592.9 335.67a4.2 4.2 0 1 0 -8.4 0a4.2 4.2 0 1 0 8.4 0M595.85 335.67a4.2 4.2 0 1 0 -8.4 0a4.2 4.2 0 1 0 8.4 0M598.8 335.67a4.2 4.2 0 1 0 -8.4 0a4.2 4.2 0 1 0 8.4 0M601.75 335.67a4.2 4.2 0 1 0 -8.4 0a4.2 4.2 0 1 0 8.4 0M604.7 339.74a4.2 4.2 0 1 0 -8.4 0a4.2 4.2 0 1 0 8.4 0M607.65 343.82a4.2 4.2 0 1 0 -8.4 0a4.2 4.2 0 1 0 8.4 0M610.6 347.89a4.2 4.2 0 1 0 -8.4 0a4.2 4.2 0 1 0 8.4 0M613.55 347.89a4.2 4.2 0 1 0 -8.4 0a4.2 4.2 0 1 0 8.4 0M616.5 351.96a4.2 4.2 0 1 0 -8.4 0a4.2 4.2 0 1 0 8.4 0M619.45 368.25a4.2 4.2 0 1 0 -8.4 0a4.2 4.2 0 1 0 8.4 0M622.4 372.33a4.2 4.2 0 1 0 -8.4 0a4.2 4.2 0 1 0 8.4 0M625.35 364.18a4.2 4.2 0 1 0 -8.4 0a4.2 4.2 0 1 0 8.4 0" class="dt"/><line x1="141.49" y1="507.5" x2="346.6" y2="507.5" class="mn"/><line x1="141.49" y1="498.6" x2="346.6" y2="498.6" class="mn"/><line x1="141.49" y1="489.7" x2="346.6" y2="489.7" class="mn"/><line x1="141.49" y1="480.8" x2="346.6" y2="480.8" class="mn"/><line x1="141.49" y1="463" x2="346.6" y2="463" class="mn"/><line x1="141.49" y1="454.1" x2="346.6" y2="454.1" class="mn"/><line x1="141.49" y1="445.2" x2="346.6" y2="445.2" class="mn"/><line x1="141.49" y1="436.3" x2="346.6" y2="436.3" class="mn"/><line x1="136.5" y1="471.9" x2="348.6" y2="471.9" class="mj"/><line x1="207.5" y1="427.4" x2="207.5" y2="516.4" class="mj"/><line x1="277.55" y1="427.4" x2="277.55" y2="516.4" class="mj"/><rect x="136.5" y="427.4" width="212.1" height="89" class="bx"/><path d="M136.5 516.4h3.6M348.6 516.4h-3.6M136.5 471.9h3.6M348.6 471.9h-3.6M136.5 427.4h3.6M348.6 427.4h-3.6M136.5 516.4v-3.6M136.5 427.4v3.6M207.5 516.4v-3.6M207.5 427.4v3.6M277.55 516.4v-3.6M277.55 427.4v3.6M348.6 516.4v-3.6M348.6 427.4v3.6" class="tk"/><text transform="translate(127.8 523.29) scale(0.97 1)" class="tl">0</text><text transform="translate(127.8 478.79) scale(0.97 1)" class="tl">500</text><text transform="translate(127.8 434.29) scale(0.97 1)" class="tl">1000</text><text transform="translate(64.1 519) rotate(-90) scale(0.851 1)" class="yl" style="text-anchor:start;font-size:21.6px">TERR</text><text transform="translate(73.8 465.5) rotate(-90) scale(1.036 1)" class="yl" style="text-anchor:start;font-size:16.3px">M</text><text transform="translate(64.1 450.1) rotate(-90) scale(0.82 1)" class="yl" style="text-anchor:start;font-size:21.6px">SL</text><path d="M140.7 516.3a4.2 4.2 0 1 0 -8.4 0a4.2 4.2 0 1 0 8.4 0M143.65 513.1a4.2 4.2 0 1 0 -8.4 0a4.2 4.2 0 1 0 8.4 0M146.6 509.4a4.2 4.2 0 1 0 -8.4 0a4.2 4.2 0 1 0 8.4 0M149.55 508.5a4.2 4.2 0 1 0 -8.4 0a4.2 4.2 0 1 0 8.4 0M152.5 498.1a4.2 4.2 0 1 0 -8.4 0a4.2 4.2 0 1 0 8.4 0M155.45 473.3a4.2 4.2 0 1 0 -8.4 0a4.2 4.2 0 1 0 8.4 0M158.4 442.9a4.2 4.2 0 1 0 -8.4 0a4.2 4.2 0 1 0 8.4 0M161.35 453.6a4.2 4.2 0 1 0 -8.4 0a4.2 4.2 0 1 0 8.4 0M164.3 468.4a4.2 4.2 0 1 0 -8.4 0a4.2 4.2 0 1 0 8.4 0M167.25 476.3a4.2 4.2 0 1 0 -8.4 0a4.2 4.2 0 1 0 8.4 0M170.2 486.3a4.2 4.2 0 1 0 -8.4 0a4.2 4.2 0 1 0 8.4 0M173.15 490.4a4.2 4.2 0 1 0 -8.4 0a4.2 4.2 0 1 0 8.4 0M176.1 496.3a4.2 4.2 0 1 0 -8.4 0a4.2 4.2 0 1 0 8.4 0M179.05 499.9a4.2 4.2 0 1 0 -8.4 0a4.2 4.2 0 1 0 8.4 0M182 501.8a4.2 4.2 0 1 0 -8.4 0a4.2 4.2 0 1 0 8.4 0M184.95 502a4.2 4.2 0 1 0 -8.4 0a4.2 4.2 0 1 0 8.4 0M187.9 502.6a4.2 4.2 0 1 0 -8.4 0a4.2 4.2 0 1 0 8.4 0M190.85 504a4.2 4.2 0 1 0 -8.4 0a4.2 4.2 0 1 0 8.4 0M193.8 506.1a4.2 4.2 0 1 0 -8.4 0a4.2 4.2 0 1 0 8.4 0M196.75 507.6a4.2 4.2 0 1 0 -8.4 0a4.2 4.2 0 1 0 8.4 0M199.7 508.9a4.2 4.2 0 1 0 -8.4 0a4.2 4.2 0 1 0 8.4 0M202.65 509.7a4.2 4.2 0 1 0 -8.4 0a4.2 4.2 0 1 0 8.4 0M205.6 510.3a4.2 4.2 0 1 0 -8.4 0a4.2 4.2 0 1 0 8.4 0M208.55 510.7a4.2 4.2 0 1 0 -8.4 0a4.2 4.2 0 1 0 8.4 0M211.5 511a4.2 4.2 0 1 0 -8.4 0a4.2 4.2 0 1 0 8.4 0M214.45 511.3a4.2 4.2 0 1 0 -8.4 0a4.2 4.2 0 1 0 8.4 0M217.4 511.5a4.2 4.2 0 1 0 -8.4 0a4.2 4.2 0 1 0 8.4 0M220.35 512a4.2 4.2 0 1 0 -8.4 0a4.2 4.2 0 1 0 8.4 0M223.3 512.4a4.2 4.2 0 1 0 -8.4 0a4.2 4.2 0 1 0 8.4 0M226.25 512.7a4.2 4.2 0 1 0 -8.4 0a4.2 4.2 0 1 0 8.4 0M229.2 512.9a4.2 4.2 0 1 0 -8.4 0a4.2 4.2 0 1 0 8.4 0M232.15 512.5a4.2 4.2 0 1 0 -8.4 0a4.2 4.2 0 1 0 8.4 0M235.1 511.9a4.2 4.2 0 1 0 -8.4 0a4.2 4.2 0 1 0 8.4 0M238.05 510.8a4.2 4.2 0 1 0 -8.4 0a4.2 4.2 0 1 0 8.4 0M241 509.6a4.2 4.2 0 1 0 -8.4 0a4.2 4.2 0 1 0 8.4 0M243.95 508a4.2 4.2 0 1 0 -8.4 0a4.2 4.2 0 1 0 8.4 0M246.9 506.3a4.2 4.2 0 1 0 -8.4 0a4.2 4.2 0 1 0 8.4 0M249.85 504a4.2 4.2 0 1 0 -8.4 0a4.2 4.2 0 1 0 8.4 0M252.8 501.7a4.2 4.2 0 1 0 -8.4 0a4.2 4.2 0 1 0 8.4 0M255.75 500.2a4.2 4.2 0 1 0 -8.4 0a4.2 4.2 0 1 0 8.4 0M258.7 498.7a4.2 4.2 0 1 0 -8.4 0a4.2 4.2 0 1 0 8.4 0M261.65 496.8a4.2 4.2 0 1 0 -8.4 0a4.2 4.2 0 1 0 8.4 0M264.6 495a4.2 4.2 0 1 0 -8.4 0a4.2 4.2 0 1 0 8.4 0M267.55 495.6a4.2 4.2 0 1 0 -8.4 0a4.2 4.2 0 1 0 8.4 0M270.5 496.2a4.2 4.2 0 1 0 -8.4 0a4.2 4.2 0 1 0 8.4 0M273.45 493.2a4.2 4.2 0 1 0 -8.4 0a4.2 4.2 0 1 0 8.4 0M276.4 489.6a4.2 4.2 0 1 0 -8.4 0a4.2 4.2 0 1 0 8.4 0M279.35 493.2a4.2 4.2 0 1 0 -8.4 0a4.2 4.2 0 1 0 8.4 0M282.3 489.6a4.2 4.2 0 1 0 -8.4 0a4.2 4.2 0 1 0 8.4 0" class="dt"/><line x1="484.54" y1="498.6" x2="689.6" y2="498.6" class="mn"/><line x1="484.54" y1="480.8" x2="689.6" y2="480.8" class="mn"/><line x1="484.54" y1="463" x2="689.6" y2="463" class="mn"/><line x1="484.54" y1="445.2" x2="689.6" y2="445.2" class="mn"/><line x1="550.5" y1="427.4" x2="550.5" y2="516.4" class="mj"/><line x1="621.55" y1="427.4" x2="621.55" y2="516.4" class="mj"/><rect x="479.55" y="427.4" width="212.05" height="89" class="bx"/><path d="M479.55 516.4h3.6M691.6 516.4h-3.6M479.55 427.4h3.6M691.6 427.4h-3.6M479.55 516.4v-3.6M479.55 427.4v3.6M550.5 516.4v-3.6M550.5 427.4v3.6M621.55 516.4v-3.6M621.55 427.4v3.6M691.6 516.4v-3.6M691.6 427.4v3.6" class="tk"/><text transform="translate(470.85 523.29) scale(0.97 1)" class="tl">0</text><text transform="translate(470.85 434.29) scale(0.97 1)" class="tl">50</text><text transform="translate(399.1 518.2) rotate(-90) scale(0.868 1)" class="yl" style="text-anchor:start;font-size:21.6px">SUN</text><text transform="translate(407.5 478.9) rotate(-90) scale(1.05 1)" class="yl" style="text-anchor:start;font-size:16.3px">F</text><text transform="translate(399.1 463) rotate(-90) scale(0.892 1)" class="yl" style="text-anchor:start;font-size:21.6px">LUX</text><path d="M483.75 516.4a4.2 4.2 0 1 0 -8.4 0a4.2 4.2 0 1 0 8.4 0M486.7 516.4a4.2 4.2 0 1 0 -8.4 0a4.2 4.2 0 1 0 8.4 0M489.65 516.4a4.2 4.2 0 1 0 -8.4 0a4.2 4.2 0 1 0 8.4 0M492.6 516.4a4.2 4.2 0 1 0 -8.4 0a4.2 4.2 0 1 0 8.4 0M495.55 516.4a4.2 4.2 0 1 0 -8.4 0a4.2 4.2 0 1 0 8.4 0M498.5 516.4a4.2 4.2 0 1 0 -8.4 0a4.2 4.2 0 1 0 8.4 0M501.45 516.4a4.2 4.2 0 1 0 -8.4 0a4.2 4.2 0 1 0 8.4 0M504.4 510.17a4.2 4.2 0 1 0 -8.4 0a4.2 4.2 0 1 0 8.4 0M507.35 503.76a4.2 4.2 0 1 0 -8.4 0a4.2 4.2 0 1 0 8.4 0M510.3 496.64a4.2 4.2 0 1 0 -8.4 0a4.2 4.2 0 1 0 8.4 0M513.25 483.11a4.2 4.2 0 1 0 -8.4 0a4.2 4.2 0 1 0 8.4 0M516.2 460.69a4.2 4.2 0 1 0 -8.4 0a4.2 4.2 0 1 0 8.4 0M519.15 440.93a4.2 4.2 0 1 0 -8.4 0a4.2 4.2 0 1 0 8.4 0M522.1 459.62a4.2 4.2 0 1 0 -8.4 0a4.2 4.2 0 1 0 8.4 0M525.05 479.02a4.2 4.2 0 1 0 -8.4 0a4.2 4.2 0 1 0 8.4 0M528 504.47a4.2 4.2 0 1 0 -8.4 0a4.2 4.2 0 1 0 8.4 0M530.95 507.68a4.2 4.2 0 1 0 -8.4 0a4.2 4.2 0 1 0 8.4 0M533.9 510.7a4.2 4.2 0 1 0 -8.4 0a4.2 4.2 0 1 0 8.4 0M536.85 514.44a4.2 4.2 0 1 0 -8.4 0a4.2 4.2 0 1 0 8.4 0M539.8 516.4a4.2 4.2 0 1 0 -8.4 0a4.2 4.2 0 1 0 8.4 0M542.75 516.4a4.2 4.2 0 1 0 -8.4 0a4.2 4.2 0 1 0 8.4 0M545.7 516.4a4.2 4.2 0 1 0 -8.4 0a4.2 4.2 0 1 0 8.4 0M548.65 516.4a4.2 4.2 0 1 0 -8.4 0a4.2 4.2 0 1 0 8.4 0M551.6 516.4a4.2 4.2 0 1 0 -8.4 0a4.2 4.2 0 1 0 8.4 0M554.55 516.4a4.2 4.2 0 1 0 -8.4 0a4.2 4.2 0 1 0 8.4 0M557.5 516.4a4.2 4.2 0 1 0 -8.4 0a4.2 4.2 0 1 0 8.4 0M560.45 516.4a4.2 4.2 0 1 0 -8.4 0a4.2 4.2 0 1 0 8.4 0M563.4 516.4a4.2 4.2 0 1 0 -8.4 0a4.2 4.2 0 1 0 8.4 0M566.35 516.4a4.2 4.2 0 1 0 -8.4 0a4.2 4.2 0 1 0 8.4 0M569.3 516.4a4.2 4.2 0 1 0 -8.4 0a4.2 4.2 0 1 0 8.4 0M572.25 516.4a4.2 4.2 0 1 0 -8.4 0a4.2 4.2 0 1 0 8.4 0M575.2 505.19a4.2 4.2 0 1 0 -8.4 0a4.2 4.2 0 1 0 8.4 0M578.15 494.15a4.2 4.2 0 1 0 -8.4 0a4.2 4.2 0 1 0 8.4 0M581.1 483.47a4.2 4.2 0 1 0 -8.4 0a4.2 4.2 0 1 0 8.4 0M584.05 474.04a4.2 4.2 0 1 0 -8.4 0a4.2 4.2 0 1 0 8.4 0M587 467.63a4.2 4.2 0 1 0 -8.4 0a4.2 4.2 0 1 0 8.4 0M589.95 465.14a4.2 4.2 0 1 0 -8.4 0a4.2 4.2 0 1 0 8.4 0M592.9 481.51a4.2 4.2 0 1 0 -8.4 0a4.2 4.2 0 1 0 8.4 0M595.85 495.22a4.2 4.2 0 1 0 -8.4 0a4.2 4.2 0 1 0 8.4 0M598.8 508.39a4.2 4.2 0 1 0 -8.4 0a4.2 4.2 0 1 0 8.4 0M601.75 508.39a4.2 4.2 0 1 0 -8.4 0a4.2 4.2 0 1 0 8.4 0M604.7 508.39a4.2 4.2 0 1 0 -8.4 0a4.2 4.2 0 1 0 8.4 0M607.65 507.86a4.2 4.2 0 1 0 -8.4 0a4.2 4.2 0 1 0 8.4 0M610.6 510.88a4.2 4.2 0 1 0 -8.4 0a4.2 4.2 0 1 0 8.4 0M613.55 514.62a4.2 4.2 0 1 0 -8.4 0a4.2 4.2 0 1 0 8.4 0M616.5 516.4a4.2 4.2 0 1 0 -8.4 0a4.2 4.2 0 1 0 8.4 0M619.45 516.4a4.2 4.2 0 1 0 -8.4 0a4.2 4.2 0 1 0 8.4 0M622.4 516.4a4.2 4.2 0 1 0 -8.4 0a4.2 4.2 0 1 0 8.4 0M625.35 516.4a4.2 4.2 0 1 0 -8.4 0a4.2 4.2 0 1 0 8.4 0" class="dt"/><text transform="translate(144.9 533) rotate(-45) scale(1.05 1)" y="7.05" class="xl">11/07</text><text transform="translate(215.9 533) rotate(-45) scale(1.05 1)" y="7.05" class="xl">11/08</text><text transform="translate(285.95 533) rotate(-45) scale(1.05 1)" y="7.05" class="xl">11/09</text><text transform="translate(357 533) rotate(-45) scale(1.05 1)" y="7.05" class="xl">11/10</text><text transform="translate(487.95 533) rotate(-45) scale(1.05 1)" y="7.05" class="xl">11/07</text><text transform="translate(558.9 533) rotate(-45) scale(1.05 1)" y="7.05" class="xl">11/08</text><text transform="translate(629.95 533) rotate(-45) scale(1.05 1)" y="7.05" class="xl">11/09</text><text transform="translate(700 533) rotate(-45) scale(1.05 1)" y="7.05" class="xl">11/10</text><text transform="translate(152.1 32.2) scale(1.05 1)" class="ti">Figure</text><path d="M231.4 17.1h3.5v15.1h-3.5zM232.4 17.1L232.4 20.7L228.8 23L227.2 20.6Z" fill="#000"/><text transform="translate(244.2 32.2) scale(1.067 1)" class="ti">medium</text></svg>
</body></html>
